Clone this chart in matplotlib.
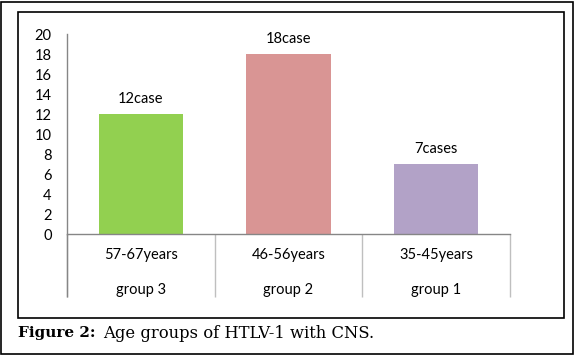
import matplotlib
matplotlib.use("Agg")
import matplotlib.pyplot as plt
from matplotlib.patches import Rectangle

age_ranges = ["57-67years", "46-56years", "35-45years"]
groups = ["group 3", "group 2", "group 1"]
cases = [12, 18, 7]
bar_labels = ["12case", "18case", "7cases"]
colors = ["#92D050", "#D99594", "#B2A2C7"]
yticks = list(range(0, 21, 2))

plt.rcParams["font.family"] = ["Lato", "DejaVu Sans"]

fig = plt.figure(figsize=(5.76, 3.56), dpi=100)
W, H = 576, 356

# outer and inner frames
fig.patches.append(Rectangle((1 / W, 2 / H), 572 / W, 352 / H, transform=fig.transFigure,
                             fill=False, edgecolor="black", linewidth=1.2))
fig.patches.append(Rectangle((18 / W, 1 - 318 / H), 546 / W, 306 / H, transform=fig.transFigure,
                             fill=False, edgecolor="black", linewidth=1.2))

ax = fig.add_axes([67 / W, 1 - 234 / H, 443 / W, 200 / H])
x = range(len(cases))
ax.bar(x, cases, width=0.57, color=colors)
ax.set_xlim(-0.5, 2.5)
ax.set_ylim(0, 20)
ax.set_yticks(yticks)
ax.tick_params(axis="y", length=0, pad=11, labelsize=10.5)
ax.set_xticks([])

for s in ["top", "right"]:
    ax.spines[s].set_visible(False)
for s in ["left", "bottom"]:
    ax.spines[s].set_color("#868686")
    ax.spines[s].set_linewidth(1)

# category dividers below the axis
trans = ax.get_xaxis_transform()
ax.vlines([-0.5, 0.5, 1.5, 2.5], -0.315, 0, transform=trans, colors="#BFBFBF",
          linewidth=1, clip_on=False)
ax.vlines([-0.5], -0.315, 0, transform=trans, colors="#868686", linewidth=1, clip_on=False)

for i in x:
    ax.text(i, -0.105, age_ranges[i], transform=trans, ha="center", va="center", fontsize=10.5)
    ax.text(i, -0.28, groups[i], transform=trans, ha="center", va="center", fontsize=10.5)
    ax.annotate(bar_labels[i], (i, cases[i]), xytext=(0, 6), textcoords="offset points",
                ha="center", va="bottom", fontsize=10.5)

fig.text(18 / W, 1 - 333 / H, "Figure 2:", fontweight="bold", family="DejaVu Serif",
         fontsize=11, va="center", ha="left")
fig.text(103 / W, 1 - 333 / H, "Age groups of HTLV-1 with CNS.", family="DejaVu Serif",
         fontsize=11.8, va="center", ha="left")

fig.savefig("out.png", dpi=100)
